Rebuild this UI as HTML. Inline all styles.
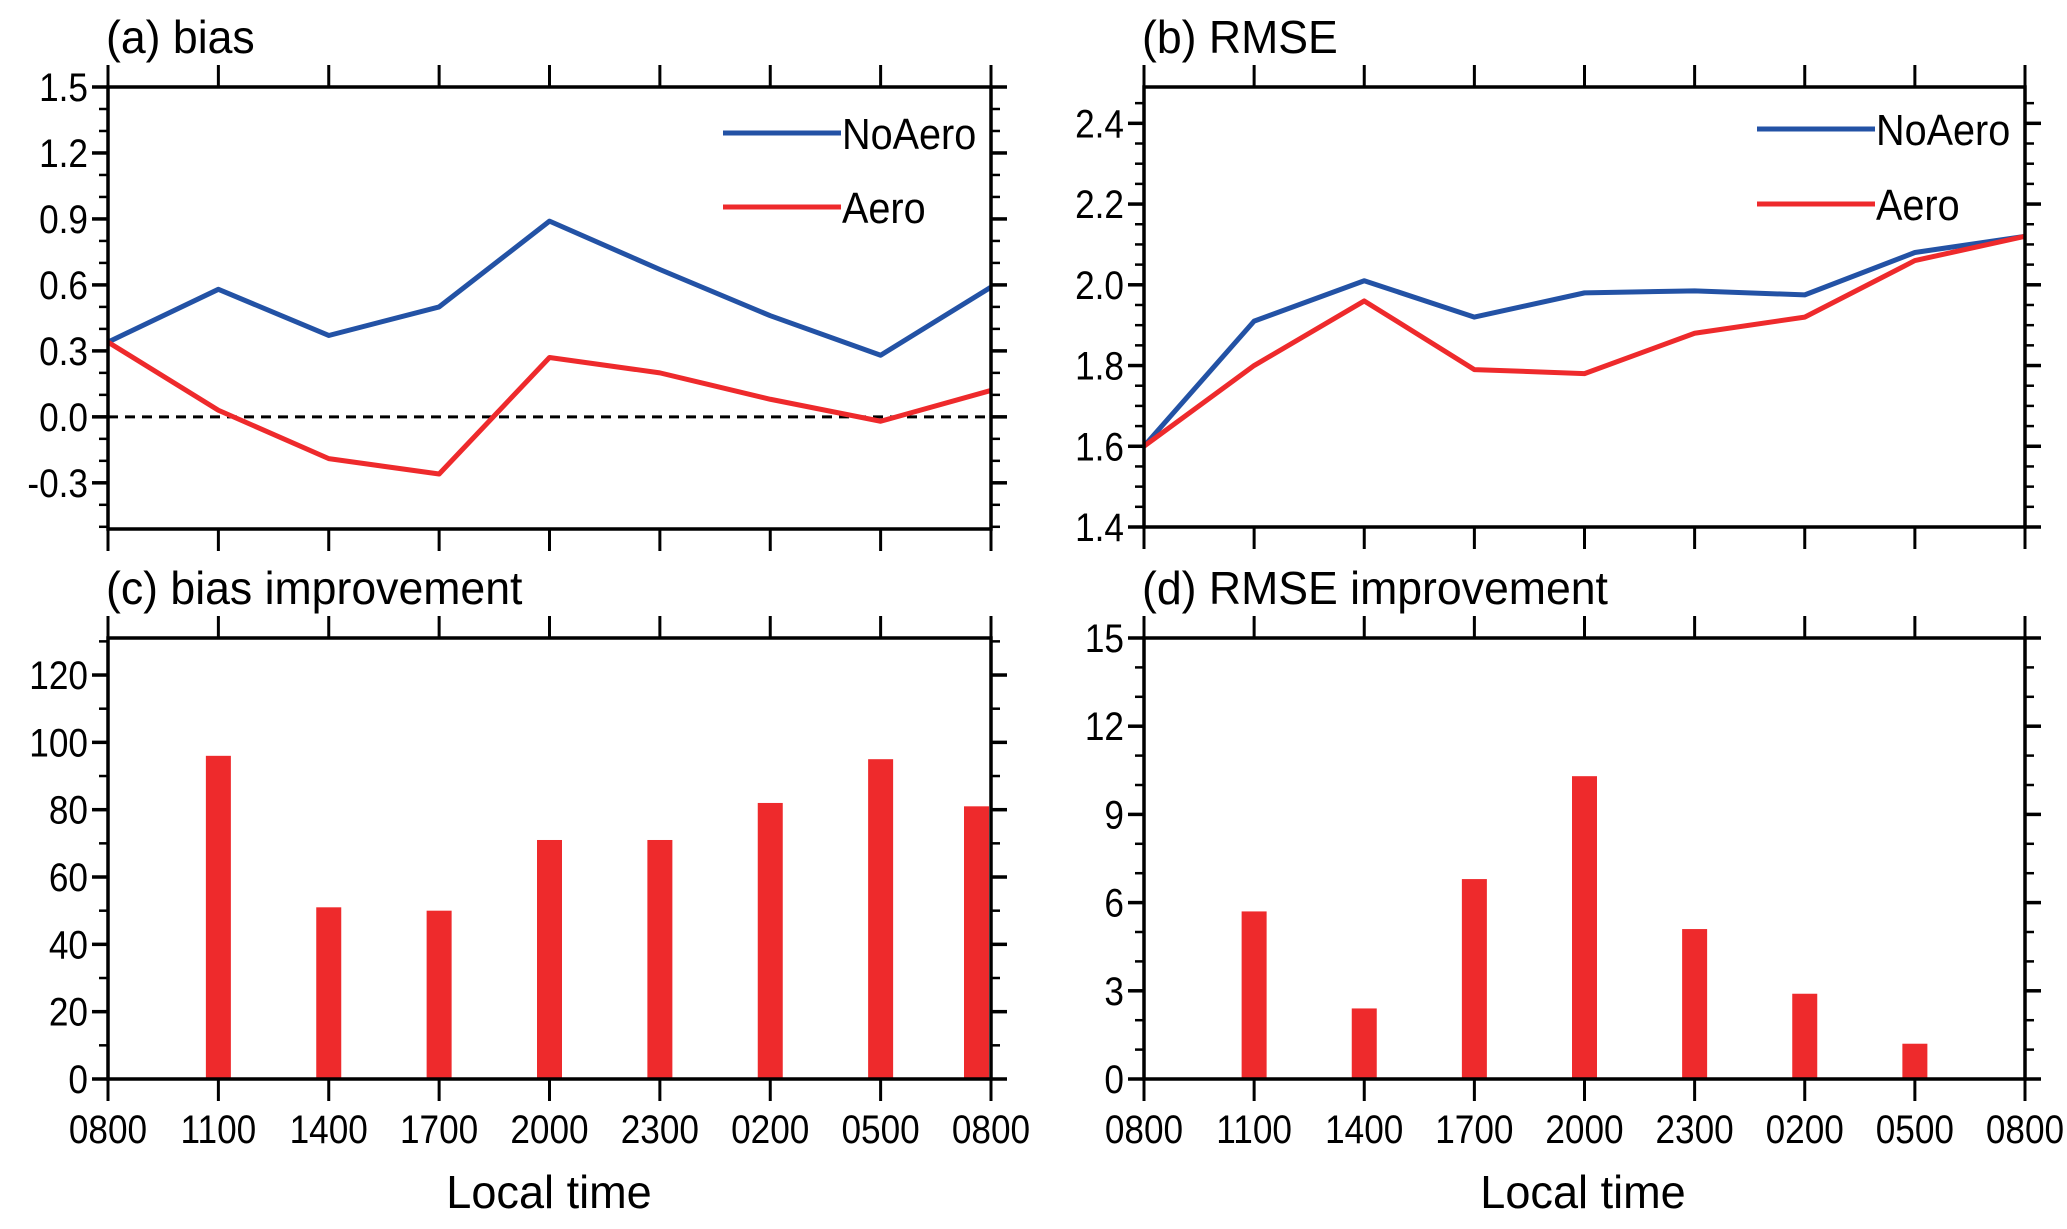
<!DOCTYPE html>
<html><head><meta charset="utf-8"><style>
html,body{margin:0;padding:0;background:#fff}
svg{display:block;font-family:"Liberation Sans",Arial,sans-serif}
</style></head><body>
<svg id="fig" width="2067" height="1229" viewBox="0 0 2067 1229" xmlns="http://www.w3.org/2000/svg"></svg>
<script>
const timeLabels = ["0800","1100","1400","1700","2000","2300","0200","0500","0800"];
const biasNoAero = [0.34,0.58,0.37,0.50,0.89,0.67,0.46,0.28,0.59];
const biasAero = [0.34,0.03,-0.19,-0.26,0.27,0.20,0.08,-0.02,0.12];
const rmseNoAero = [1.60,1.91,2.01,1.92,1.98,1.985,1.975,2.08,2.12];
const rmseAero = [1.60,1.80,1.96,1.79,1.78,1.88,1.92,2.06,2.12];
const biasImprove = [96,51,50,71,71,82,95,81];
const rmseImprove = [5.7,2.4,6.8,10.3,5.1,2.9,1.2,0];
const biasTicks = [-0.3,0.0,0.3,0.6,0.9,1.2,1.5];
const rmseTicks = [1.4,1.6,1.8,2.0,2.2,2.4];
const biasImpTicks = [0,20,40,60,80,100,120];
const rmseImpTicks = [0,3,6,9,12,15];

const svg = document.getElementById('fig');
const NS = "http://www.w3.org/2000/svg";
function mk(tag, attrs, parent){const e=document.createElementNS(NS,tag);for(const k in attrs)e.setAttribute(k,attrs[k]);(parent||svg).appendChild(e);return e;}
function txt(parent,x,y,size,sx,anchor,str){
  const t=mk('text',{transform:`translate(${x},${y}) scale(${sx},1)`,'font-size':size,'text-anchor':anchor,fill:'#000'},parent);
  t.textContent=str; return t;
}

function panel(o){
  const g = mk('g',{});
  
  
  const X = i => o.L + (o.R-o.L)*i/8;
  const Y = v => o.B - (v-o.ymin)/(o.ymax-o.ymin)*(o.B-o.T);
  const t = txt(g,o.L-2,o.T-34,46,0.97,'start',o.title);
  
  
  for(let v=o.ymin; v<=o.ymax+1e-9; v+=o.minor){
    const vv=Math.ceil((v-1e-9)/o.minor)*o.minor;
    const y=Y(vv);
    mk('line',{x1:o.L-9,x2:o.L,y1:y,y2:y,stroke:'#000','stroke-width':2.5},g);
    mk('line',{x1:o.R,x2:o.R+9,y1:y,y2:y,stroke:'#000','stroke-width':2.5},g);
  }
  o.ticks.forEach(v=>{
    const y=Y(v);
    mk('line',{x1:o.L-16,x2:o.L,y1:y,y2:y,stroke:'#000','stroke-width':3.5},g);
    mk('line',{x1:o.R,x2:o.R+16,y1:y,y2:y,stroke:'#000','stroke-width':3.5},g);
    const tl=txt(g,o.L-20,y+14,40,0.88,'end',o.fmt(v));
    
    
  });
  timeLabels.forEach((lab,i)=>{
    const x=X(i);
    mk('line',{x1:x,x2:x,y1:o.T-22,y2:o.T,stroke:'#000','stroke-width':3},g);
    mk('line',{x1:x,x2:x,y1:o.B,y2:o.B+22,stroke:'#000','stroke-width':3},g);
    if(o.xlabels){
      const xl=txt(g,x,o.B+64,40,0.88,'middle',lab);
      
      
    }
  });
  if(o.zero){
    const z=mk('line',{x1:o.L,x2:o.R,y1:Y(0),y2:Y(0),stroke:'#000','stroke-width':3,'stroke-dasharray':'10,7'},g);
    
    
  }
  if(o.series){
    o.series.forEach(s=>{
      const p=mk('polyline',{points:s.data.map((v,i)=>X(i)+','+Y(v)).join(' '),fill:'none',stroke:s.color,'stroke-width':5,'stroke-linejoin':'round'},g);
      
      
    });
    o.series.forEach((s,k)=>{
      const ly=o.legY[k];
      const ll=mk('line',{x1:o.legX,x2:o.legX+118,y1:ly,y2:ly,stroke:s.color,'stroke-width':5},g);
      
      
      const lt=txt(g,o.legX+119,ly+16,44,0.9,'start',s.label);
      
      
    });
  }
  if(o.bars){
    o.bars.forEach((v,i)=>{
      let x=X(i+1)-12.5;
      if(x+25>o.R-2) x=o.R-27;
      const r=mk('rect',{x:x,y:Y(v),width:25,height:Y(0)-Y(v),fill:'#ee2a2c'},g);
      
      
    });
  }
  const f=mk('rect',{x:o.L,y:o.T,width:o.R-o.L,height:o.B-o.T,fill:'none',stroke:'#000','stroke-width':3.5},g);
  
  
}

panel({name:'panel-a-bias',title:'(a) bias',L:108,R:991,T:87,B:529,ymin:-0.51,ymax:1.5,minor:0.1,ticks:biasTicks,fmt:v=>v.toFixed(1),zero:true,
  series:[{key:'noaero',label:'NoAero',color:'#2352a5',data:biasNoAero},{key:'aero',label:'Aero',color:'#ee2a2c',data:biasAero}],legX:723,legY:[133,207]});
panel({name:'panel-b-rmse',title:'(b) RMSE',L:1144,R:2025,T:87,B:527,ymin:1.4,ymax:2.49,minor:0.05,ticks:rmseTicks,fmt:v=>v.toFixed(1),
  series:[{key:'noaero',label:'NoAero',color:'#2352a5',data:rmseNoAero},{key:'aero',label:'Aero',color:'#ee2a2c',data:rmseAero}],legX:1757,legY:[129,204]});
panel({name:'panel-c-bias-improvement',title:'(c) bias improvement',L:108,R:991,T:638,B:1079,ymin:0,ymax:131,minor:10,ticks:biasImpTicks,fmt:v=>String(v),xlabels:true,bars:biasImprove});
panel({name:'panel-d-rmse-improvement',title:'(d) RMSE improvement',L:1144,R:2025,T:638,B:1079,ymin:0,ymax:15,minor:1,ticks:rmseImpTicks,fmt:v=>String(v),xlabels:true,bars:rmseImprove});

[549,1583].forEach(cx=>{
  const t=txt(svg,cx,1208,46,0.98,'middle','Local time');
  
  
});
</script>
</body></html>
